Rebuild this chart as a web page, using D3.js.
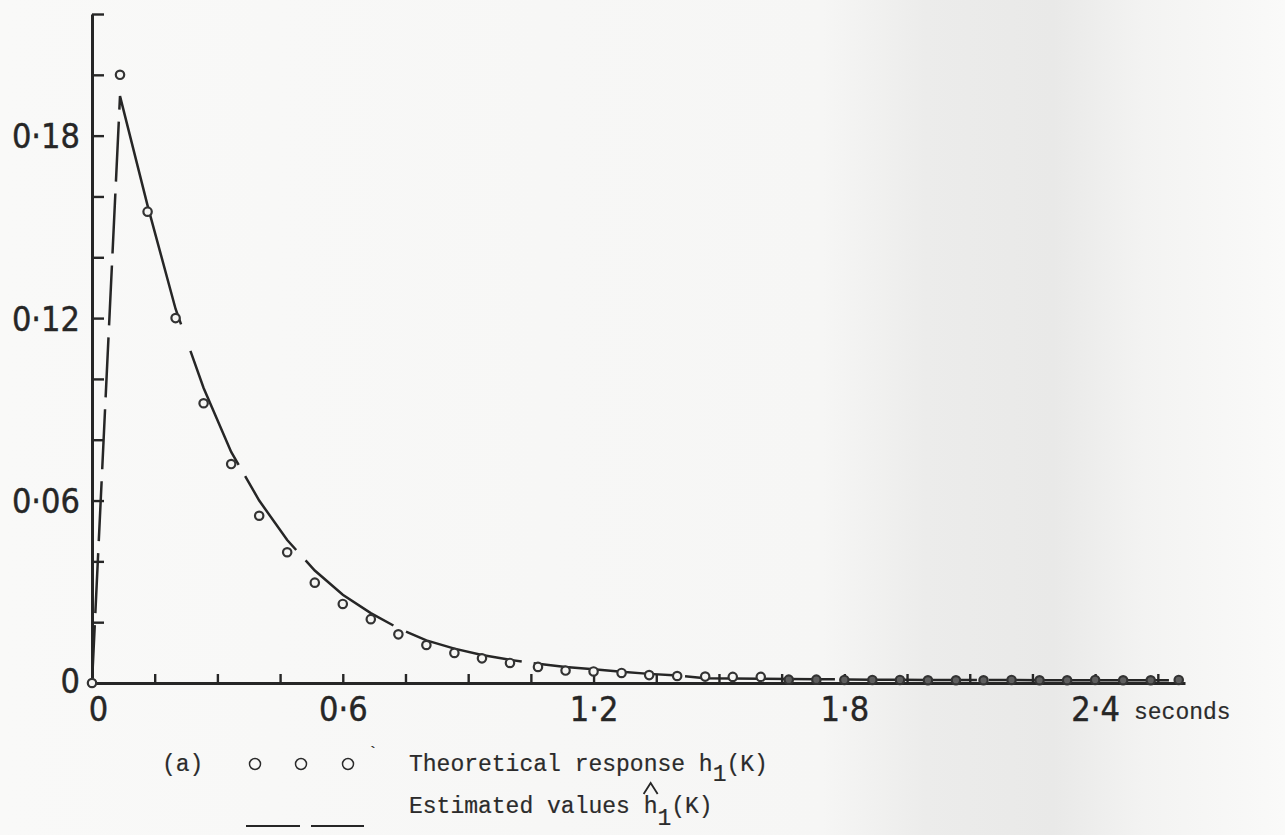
<!DOCTYPE html>
<html>
<head>
<meta charset="utf-8">
<script src="https://cdn.jsdelivr.net/npm/d3@7"></script>
<style>
  html, body { margin: 0; padding: 0; background: #f8f8f7; }
  svg { display: block; }
  .ink { stroke: #262626; fill: none; }
  .num { font-family: "Liberation Sans Narrow", "DejaVu Sans Condensed", "Liberation Sans", sans-serif; font-size: 34px; fill: #262626; stroke: #262626; stroke-width: 0.4; }
  .type { font-family: "Liberation Mono", "DejaVu Sans Mono", monospace; font-size: 23px; fill: #2b2b2b; stroke: #2b2b2b; stroke-width: 0.2; }
</style>
</head>
<body>
<div class="content"></div>
<script>
var svgWidth = 1285;  // Width of the picture.
var svgHeight = 835;  // Height of the picture.

// Sample times in seconds (one sample every 1/15 s).
var sampleTimes = [0, 0.067, 0.133, 0.2, 0.267, 0.333, 0.4, 0.467, 0.533, 0.6,
                   0.667, 0.733, 0.8, 0.867, 0.933, 1.0, 1.067, 1.133, 1.2, 1.267,
                   1.333, 1.4, 1.467, 1.533, 1.6, 1.667, 1.733, 1.8, 1.867, 1.933,
                   2.0, 2.067, 2.133, 2.2, 2.267, 2.333, 2.4, 2.467, 2.533, 2.6];

// Theoretical response h1(K).
var theoretical = [0, 0.200, 0.155, 0.120, 0.092, 0.072, 0.055, 0.043, 0.033, 0.026,
                   0.021, 0.016, 0.0125, 0.0099, 0.0081, 0.0066, 0.0053, 0.0041, 0.0038, 0.0033,
                   0.0026, 0.0023, 0.0021, 0.0020, 0.0020, 0.0011, 0.0011, 0.0010, 0.0010, 0.0010,
                   0.0009, 0.0009, 0.0009, 0.0010, 0.0009, 0.0009, 0.0010, 0.0009, 0.0009, 0.0010];

// Estimated values h^1(K).
var estimated = [0, 0.193, 0.157, 0.123, 0.097, 0.076, 0.060, 0.047, 0.037, 0.029,
                 0.023, 0.018, 0.0140, 0.0113, 0.0092, 0.0076, 0.0063, 0.0053, 0.0045, 0.0037,
                 0.0030, 0.0025, 0.0016, 0.0015, 0.0014, 0.0013, 0.0012, 0.0012, 0.0011, 0.0011,
                 0.0010, 0.0010, 0.0010, 0.0010, 0.0009, 0.0009, 0.0009, 0.0009, 0.0009, 0.0009];

// Tick values and their labels.
var yMinorTicks = [0.02, 0.04, 0.06, 0.08, 0.10, 0.12, 0.14, 0.16, 0.18, 0.20, 0.22];
var yLabels = [0, 0.06, 0.12, 0.18];
var xMinorTicks = [0.15, 0.3, 0.45, 0.6, 0.75, 0.9, 1.05, 1.2, 1.35, 1.5, 1.65, 1.8, 1.95, 2.1, 2.25, 2.4, 2.55];
var xLabels = [0, 0.6, 1.2, 1.8, 2.4];

// Format a number the old way, with a raised point.
function fmt(v) { return v === 0 ? "0" : d3.format(".2~f")(v).replace(".", "\u00b7"); }

var svg = d3.select(".content")
    .append("svg")
    .attr("width", svgWidth)
    .attr("height", svgHeight);

// Paper, with a faint grey patch on the right.
var grad = svg.append("defs").append("linearGradient").attr("id", "paper");
grad.append("stop").attr("offset", "0%").attr("stop-color", "#f9f9f8");
grad.append("stop").attr("offset", "64%").attr("stop-color", "#f6f6f5");
grad.append("stop").attr("offset", "72%").attr("stop-color", "#ececeb");
grad.append("stop").attr("offset", "82%").attr("stop-color", "#e9e9e8");
grad.append("stop").attr("offset", "89%").attr("stop-color", "#f3f3f2");
grad.append("stop").attr("offset", "100%").attr("stop-color", "#fafaf9");
svg.append("rect").attr("width", svgWidth).attr("height", svgHeight).attr("fill", "url(#paper)");

var x = d3.scaleLinear().domain([0, 2.615]).range([92, 1185]);
var y = d3.scaleLinear().domain([0, 0.22]).range([683, 14]);

// Y axis: line with short ticks to the right.
svg.append("g")
    .attr("transform", "translate(" + x(0) + ",0)")
    .call(d3.axisRight(y).tickValues(yMinorTicks).tickSizeInner(12).tickSizeOuter(0).tickFormat(""))
    .call(function(g) {
        g.select(".domain").attr("stroke", "#262626").attr("stroke-width", 3);
        g.selectAll(".tick line").attr("stroke", "#262626").attr("stroke-width", 2.4);
    });

// Y labels.
svg.append("g")
    .attr("transform", "translate(" + (x(0) - 12) + ",0)")
    .call(d3.axisLeft(y).tickValues(yLabels).tickSize(0).tickFormat(fmt))
    .call(function(g) {
        g.select(".domain").remove();
        g.selectAll("text").attr("class", "num").attr("x", 0).attr("dy", "0.36em")
            .attr("transform", function(d) { return d === 0 ? "translate(0,-3)" : null; });
    });

// X axis: line with short ticks pointing up.
svg.append("g")
    .attr("transform", "translate(0," + y(0) + ")")
    .call(d3.axisBottom(x).tickValues(xMinorTicks).tickSizeInner(-9).tickSizeOuter(0).tickFormat(""))
    .call(function(g) {
        g.select(".domain").attr("stroke", "#262626").attr("stroke-width", 3);
        g.selectAll(".tick line").attr("stroke", "#262626").attr("stroke-width", 2.4);
    });

// X labels.
svg.append("g")
    .attr("transform", "translate(0," + (y(0) + 11) + ")")
    .call(d3.axisBottom(x).tickValues(xLabels).tickSize(0).tickFormat(fmt))
    .call(function(g) {
        g.select(".domain").remove();
        g.selectAll("text").attr("class", "num").attr("dy", "0.71em")
            .attr("transform", function(d) { return d === 0 ? "translate(6,0)" : null; });
    });

svg.append("text").attr("class", "type")
    .attr("x", 1134).attr("y", 719)
    .text("seconds");

// Estimated values: broken curve.
var line = d3.line()
    .x(function(d, i) { return x(sampleTimes[i]); })
    .y(function(d) { return y(d); });

svg.append("path")
    .datum(estimated)
    .attr("class", "ink")
    .attr("stroke-width", 2.5)
    .attr("stroke-dasharray", "58,12,60,12,60,12,60,12,60,12,60,12,60,12,60,12,250,28,124,13,90,14,110,14,120,12,140,12,150,12,130,12,180,10,200,10,300,10")
    .attr("d", line);

// Theoretical response: circles.
svg.append("g")
    .selectAll("circle")
    .data(theoretical)
    .enter()
    .append("circle")
    .attr("cx", function(d, i) { return x(sampleTimes[i]); })
    .attr("cy", function(d) { return y(d); })
    .attr("r", 4.2)
    .attr("stroke", "#333")
    .attr("stroke-width", 2.2)
    .attr("fill", function(d, i) { return i >= 25 ? "#5e5e5e" : "#f6f6f4"; });

// Legend.
svg.append("text").attr("class", "type").attr("x", 162).attr("y", 771).text("(a)");

svg.append("g")
    .selectAll("circle")
    .data([255, 301, 348])
    .enter()
    .append("circle")
    .attr("cx", function(d) { return d; })
    .attr("cy", 764)
    .attr("r", 5.5)
    .attr("stroke", "#2b2b2b")
    .attr("stroke-width", 1.5)
    .attr("fill", "none");

svg.append("text").attr("class", "type").attr("x", 368).attr("y", 758).style("font-size", "16px").text("`");

svg.append("g")
    .selectAll("line")
    .data([[246, 300], [311, 364]])
    .enter()
    .append("line")
    .attr("class", "ink")
    .attr("stroke-width", 2.2)
    .attr("x1", function(d) { return d[0]; })
    .attr("x2", function(d) { return d[1]; })
    .attr("y1", 826)
    .attr("y2", 826);

var t1 = svg.append("text").attr("class", "type").attr("x", 409).attr("y", 771);
t1.append("tspan").text("Theoretical response h");
t1.append("tspan").attr("dy", 10).text("1");
t1.append("tspan").attr("dy", -10).text("(K)");

var t2 = svg.append("text").attr("class", "type").attr("x", 409).attr("y", 813);
t2.append("tspan").text("Estimated values h");
t2.append("tspan").attr("dy", 12).text("1");
t2.append("tspan").attr("dy", -12).text("(K)");

// Hat over the estimated h.
var hatX = 409 + t2.node().getSubStringLength(0, 17) + 7;
svg.append("path")
    .attr("class", "ink")
    .attr("stroke-width", 1.8)
    .attr("d", "M" + (hatX - 7) + ",794L" + hatX + ",783L" + (hatX + 7) + ",794");
</script>
</body>
</html>
